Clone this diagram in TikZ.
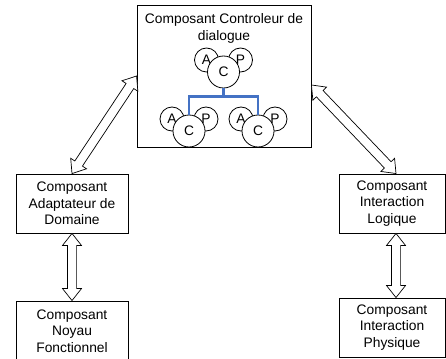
\documentclass[tikz,border=0pt]{standalone}
\usepackage{fontspec}
\setmainfont{Liberation Sans}
\usetikzlibrary{calc}
\tikzset{
  every node/.style={font=\fontsize{13.8}{16.5}\selectfont},
  box/.style={draw, line width=0.9pt, rectangle, align=center, inner sep=0pt},
  circ/.style={draw, circle, fill=white, line width=0.8pt, inner sep=0pt},
  smallc/.style={circ, minimum size=24pt},
  bigc/.style={circ, minimum size=32pt},
  blockarrow/.style={draw, fill=white, line width=0.7pt, line join=miter},
  blueline/.style={draw=linkblue, line width=2.8pt},
}
\definecolor{linkblue}{RGB}{68,114,196}
\newcommand\dblarrow[2]{%
  \path[blockarrow] (#1)
   -- ($(#1)!12pt!(#2)!9.5pt!90:(#2)$)
   -- ($(#1)!12pt!(#2)!4.6pt!90:(#2)$)
   -- ($(#2)!12pt!(#1)!4.6pt!-90:(#1)$)
   -- ($(#2)!12pt!(#1)!9.5pt!-90:(#1)$)
   -- (#2)
   -- ($(#2)!12pt!(#1)!9.5pt!90:(#1)$)
   -- ($(#2)!12pt!(#1)!4.6pt!90:(#1)$)
   -- ($(#1)!12pt!(#2)!4.6pt!-90:(#2)$)
   -- ($(#1)!12pt!(#2)!9.5pt!-90:(#2)$)
   -- cycle;}
\newcommand\acpgroup[3]{%
  \node[smallc] (#1a) at ($(#2,#3)+(-17,-12)$) {A};
  \node[smallc] (#1p) at ($(#2,#3)+(17,-12)$) {P};
  \node[bigc] (#1) at (#2,#3) {C};
}
\begin{document}
\begin{tikzpicture}[x=1pt,y=-1pt]
\clip (0,0) rectangle (446,358);
\fill[white] (0,0) rectangle (446,358);
% boxes
\node[box, minimum width=174pt, minimum height=142pt] (ctrl) at (224,76) {};
\node (title) at (224,28.5) [align=center, inner sep=0pt] {Composant Controleur de\\dialogue};
\node[box, minimum width=112pt, minimum height=59pt] (adapt) at (72,203.5) {Composant\\Adaptateur de\\Domaine};
\node[box, minimum width=112pt, minimum height=60pt] (noyau) at (72,331) {Composant\\Noyau\\Fonctionnel};
\node[box, minimum width=106pt, minimum height=59pt] (logique) at (392,203.5) {Composant\\Interaction\\Logique};
\node[box, minimum width=106pt, minimum height=59pt] (physique) at (392,327.5) {Composant\\Interaction\\Physique};
% circle groups
\acpgroup{c0}{223.5}{72}
\acpgroup{c1}{189}{131}
\acpgroup{c2}{258}{131}
\draw[blueline] (c0.south) -- ++(0,8) -| (c1.north);
\draw[blueline] (c0.south) -- ++(0,8) -| (c2.north);
% arrow end points
\coordinate (la) at (adapt.north);
\coordinate (lc) at (ctrl.west);
\coordinate (rc) at ([yshift=-9pt]ctrl.east);
\coordinate (rl) at ([xshift=4pt]logique.north);
\coordinate (ls) at (adapt.south);
\coordinate (ln) at (noyau.north);
\coordinate (rs) at ([xshift=4pt]logique.south);
\coordinate (rp) at ([xshift=4pt]physique.north);
\dblarrow{la}{lc}
\dblarrow{rc}{rl}
\dblarrow{ls}{ln}
\dblarrow{rs}{rp}
\end{tikzpicture}
\end{document}
